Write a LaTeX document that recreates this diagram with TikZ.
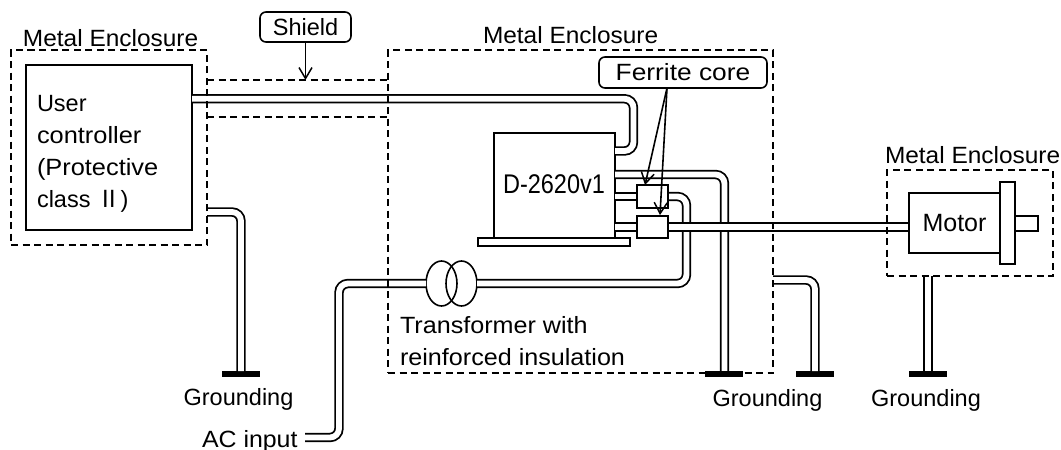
\documentclass[tikz,border=0pt]{standalone}
\usepackage{graphicx}
\usepackage{fontspec}
\setmainfont{Liberation Sans}
\newfontfamily\cjkfont{Noto Sans CJK JP}
\usetikzlibrary{shapes.geometric,arrows.meta}
\tikzset{
  x=1pt,y=-1pt,
  every node/.style={inner sep=0pt,outer sep=0pt},
  box/.style={draw=black,line width=1.7pt,fill=white},
  encl/.style={draw=black,line width=1.8pt,dash pattern=on 7pt off 4.5pt},
  tag/.style={draw=black,line width=1.6pt,rounded corners=6pt,fill=white,font=\fontsize{23.5}{28}\selectfont},
  cable/.style={draw=black,line width=1.8pt,double=white,double distance=5.8pt,rounded corners=9pt},
  thinarrow/.style={draw=black,line width=1.6pt,-{Straight Barb[length=11pt,width=13pt,line width=1.5pt]}},
  gnd/.style={fill=black,minimum width=38pt,minimum height=6pt},
  txt/.style={anchor=base west,font=\fontsize{23.5}{32}\selectfont},
  txc/.style={anchor=base,font=\fontsize{23.5}{32}\selectfont},
  coil/.style={ellipse,draw=black,line width=1.6pt,minimum width=31pt,minimum height=45pt},
}
\begin{document}
\begin{tikzpicture}
\useasboundingbox (0,0) rectangle (1061,450);
% anchors for the connectors
\node[box,minimum width=166pt,minimum height=165pt] (user) at (109,147.5) {};
\node[box,minimum width=121pt,minimum height=105pt] (drv) at (554.5,185.5) {};
\node[coil] (tl) at (441.5,283.5) {};
\node[coil] (tr) at (461.5,283.5) {};
\node[minimum width=166pt,minimum height=106pt] (encMref) at (970,223) {};
\node[minimum width=196pt,minimum height=195pt] (encLref) at (109,147.5) {};
\node[minimum width=385pt,minimum height=323pt] (encCref) at (580.5,211.5) {};
\node[gnd] (g1) at (241,374) {};
\node[gnd] (g2) at (724,374) {};
\node[gnd] (g3) at (815,374) {};
\node[gnd] (g4) at (928,374) {};
\coordinate (acend) at (305,437.5);
\node[minimum width=31pt,minimum height=23pt] (f1) at (652.5,196.5) {};
\node[minimum width=31pt,minimum height=22pt] (f2) at (652.5,227) {};
\node[minimum width=91pt,minimum height=60pt] (motor) at (954.5,223) {};
% cables
\draw[cable] (user.east |- 0,98.75) -- (633.5,98.75) -- (633.5,151) -- (drv.east |- 0,151);
\draw[cable] (drv.east |- 0,174.5) -- (724.5,174.5) -- (g2.north -| 724.5,0);
\draw[cable] (drv.east |- f1.center) -- (f1.west);
\draw[cable] (f1.east) -- (686.5,196.5) -- (686.5,283.5) -- (tr.east);
\draw[cable] (tl.west) -- (339,283.5) -- (339,437.5) -- (acend);
\draw[cable] (encLref.east |- 0,212) -- (241,212) -- (g1.north);
\draw[cable] (encCref.east |- 0,280) -- (815,280) -- (g3.north);
\draw[cable] (encMref.south -| g4.north) -- (g4.north);
\draw[cable] (drv.east |- f2.center) -- (f2.west);
\draw[cable] (f2.east) -- (motor.west |- f2.east);
% boxes on top of the cables
\node[box,minimum width=31pt,minimum height=23pt] (ferriteA) at (f1) {};
\node[box,minimum width=31pt,minimum height=22pt] (ferriteB) at (f2) {};
\node[box,minimum width=152pt,minimum height=8pt] (base) at (554,242) {};
\node[box,minimum width=91pt,minimum height=60pt] (motorbox) at (motor) {\fontsize{25}{28}\selectfont Motor};
\node[box,minimum width=23pt,minimum height=15pt] (shaft) at (1026.5,223.5) {};
\node[box,minimum width=15pt,minimum height=82pt] (flange) at (1007.5,223) {};
% enclosures and shield
\node[encl,minimum width=196pt,minimum height=195pt] (encL) at (109,147.5) {};
\node[encl,minimum width=385pt,minimum height=323pt] (encC) at (580.5,211.5) {};
\node[encl,minimum width=166pt,minimum height=106pt] (encM) at (970,223) {};
\draw[encl] (encL.east |- 0,80) -- (encC.west |- 0,80);
\draw[encl] (encL.east |- 0,117) -- (encC.west |- 0,117);
\node[gnd] (g2top) at (g2) {};
% tags and arrows
\node[tag,minimum width=91pt,minimum height=30pt] (shield) at (305.5,27) {Shield};
\node[tag,minimum width=168pt,minimum height=31pt] (ferrite) at (683,72.5) {\scalebox{1.12}[1]{Ferrite core}};
\draw[thinarrow] (shield.south) -- (shield.south |- 0,80);
\draw[thinarrow] (ferrite.south -| 667,0) -- (645,185);
\draw[thinarrow] (ferrite.south -| 667,0) -- (660,215);
% texts
\node[txt] (t1) at (23,46) {\scalebox{1.04}[1]{Metal Enclosure}};
\node[txt] (t2) at (483,43) {\scalebox{1.04}[1]{Metal Enclosure}};
\node[txt] (t3) at (885,163) {\scalebox{1.04}[1]{Metal Enclosure}};
\node[txt] (u1) at (37,111) {User};
\node[txt] (u2) at (37,143) {\scalebox{1.08}[1]{controller}};
\node[txt] (u3) at (37,175) {\scalebox{1.08}[1]{(Protective}};
\node[txt] (u4) at (37,207) {class {\cjkfont Ⅱ})};
\node[anchor=base] (dlab) at (554,193) {\fontsize{27}{30}\selectfont\scalebox{0.87}[1]{D-2620v1}};
\node[txt] (tf1) at (400,333) {\scalebox{1.07}[1]{Transformer with}};
\node[txt] (tf2) at (400,365) {\scalebox{1.07}[1]{reinforced insulation}};
\node[txc] (g1t) at (238.5,405) {Grounding};
\node[txc] (g2t) at (767.5,406) {Grounding};
\node[txc] (g3t) at (926,406) {Grounding};
\node[txt] (ac) at (202,447) {\scalebox{1.06}[1]{AC input}};
\end{tikzpicture}
\end{document}
